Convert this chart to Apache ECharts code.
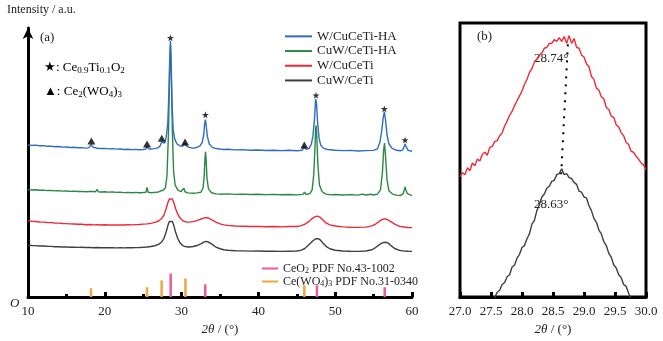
<!DOCTYPE html>
<html>
<head>
<meta charset="utf-8">
<script src="https://cdn.jsdelivr.net/npm/echarts@6/dist/echarts.min.js"></script>
<style>
  html, body { margin: 0; padding: 0; background: #fff; }
  #chart { width: 663px; height: 341px; }
</style>
</head>
<body>
<div id="chart"></div>
<script>
// panel (a) patterns, [2theta, intensity] (offset stacked, a.u.)
const blueA = [[10,156],[10.5,155.6],[11,155.8],[11.5,155.2],[12,155.3],[12.5,154.6],[13,154.8],[13.5,154.2],[14,154.4],[14.5,153.8],[15,153.9],[15.5,153.4],[16,153.6],[16.5,153.1],[17,153.3],[17.5,152.8],[17.9,153.0],[18.1,154.0],[18.25,156.5],[18.4,154.0],[18.6,152.8],[19,152.6],[19.5,152.3],[20,152.5],[20.5,152.0],[21,152.2],[21.5,151.7],[22,151.9],[22.5,151.4],[23,151.6],[23.5,151.2],[24,151.5],[24.5,151.1],[25,151.4],[25.3,151.6],[25.5,154.5],[25.7,152.0],[26,151.8],[26.5,152.2],[26.9,153.0],[27.2,155],[27.4,159],[27.55,157],[27.8,158],[28.0,164],[28.2,178],[28.35,210],[28.45,245],[28.55,263],[28.65,240],[28.75,200],[28.9,172],[29.1,162],[29.4,157],[29.8,155],[30.1,154.5],[30.3,156],[30.45,158],[30.6,155],[31,153.5],[31.5,152.8],[32,153.4],[32.4,155],[32.7,159],[32.9,168],[33.0,178],[33.1,182],[33.2,176],[33.35,165],[33.6,157],[34,153.5],[34.5,152.3],[35,151.8],[35.5,151.4],[36,151.6],[37,151.0],[38,151.2],[39,150.6],[40,150.8],[41,150.3],[42,150.6],[43,150.2],[44,150.5],[45,150.1],[45.7,150.6],[45.95,154],[46.2,151.5],[46.6,152.5],[46.9,157],[47.1,165],[47.3,182],[47.45,203],[47.55,200],[47.7,180],[47.9,163],[48.1,156],[48.5,152.5],[49,151.3],[50,150.6],[51,150.2],[52,150.4],[53,149.8],[54,150.2],[55,150.4],[55.5,152],[55.8,158],[56.05,170],[56.25,184],[56.4,190],[56.55,182],[56.75,166],[57,157],[57.4,152.5],[58,150.5],[58.5,150.0],[58.8,151],[58.95,154],[59.1,157],[59.25,154],[59.5,150.5],[60,149.5]]
const greenA = [[10,110.2],[10.5,109.8],[11,110.0],[11.5,109.5],[12,109.7],[12.5,109.2],[13,109.4],[13.5,108.9],[14,109.1],[14.5,108.6],[15,108.8],[15.5,108.4],[16,108.6],[16.5,108.2],[17,108.4],[17.5,108.0],[18,108.3],[18.2,109.5],[18.35,108.2],[18.8,108.0],[19.0,110.5],[19.15,108.0],[19.5,107.8],[20,108.0],[20.5,107.6],[21,107.8],[21.5,107.3],[22,107.6],[22.5,107.1],[23,107.4],[23.5,107.0],[24,107.3],[24.5,106.9],[25,107.2],[25.35,107.5],[25.5,112.5],[25.65,107.5],[26,107.0],[26.5,107.4],[27,107.8],[27.3,109],[27.45,111],[27.6,109.5],[27.9,112],[28.1,125],[28.3,170],[28.45,235],[28.55,258],[28.65,230],[28.8,170],[28.95,130],[29.15,115],[29.5,110],[29.9,108],[30.15,108.5],[30.3,111.5],[30.45,108],[30.8,106.8],[31.5,106.5],[32,106.8],[32.5,107.5],[32.8,112],[32.95,125],[33.05,143],[33.12,149],[33.2,140],[33.3,122],[33.5,111],[33.9,107],[34.5,105.8],[35,105.5],[36,105.8],[37,105.3],[38,105.6],[39,105.1],[40,105.4],[41,105.0],[42,105.3],[43,104.9],[44,105.2],[45,104.8],[45.8,105.3],[46.0,107.5],[46.2,105.2],[46.7,106],[47.0,110],[47.2,125],[47.35,150],[47.45,172],[47.52,176],[47.6,165],[47.75,135],[47.95,115],[48.3,108],[48.8,105.5],[49.5,104.8],[50,105.2],[51,104.6],[52,105.0],[53,104.5],[53.5,105.5],[54,104.6],[54.7,105.4],[55,104.6],[55.5,105.5],[55.9,110],[56.15,128],[56.3,150],[56.42,158],[56.55,145],[56.75,120],[57,109],[57.5,105.5],[58,104.5],[58.5,104.2],[58.85,106],[59.0,110],[59.1,113],[59.2,110],[59.4,106],[60,104]]
const redA = [[10,78.2],[10.5,77.6],[11,77.5],[11.5,77.0],[12,76.8],[12.5,76.5],[13,76.3],[13.5,75.9],[14,75.8],[14.5,75.4],[15,75.3],[15.5,75.0],[16,74.9],[16.5,74.6],[17,74.6],[17.5,74.2],[18,74.4],[18.5,74.0],[19,74.2],[19.5,73.9],[20,74.1],[20.5,73.8],[21,74.0],[21.5,73.8],[22,74.0],[22.5,73.9],[23,74.2],[23.5,74.0],[24,74.3],[24.5,74.4],[25,74.8],[25.5,75.0],[26,75.6],[26.5,76.5],[27,78],[27.4,80.5],[27.7,84],[28.0,91],[28.2,96.5],[28.4,100.5],[28.6,102],[28.8,100.5],[29.0,96.5],[29.2,91],[29.5,85],[29.8,81],[30.2,78],[30.6,77],[31,76.8],[31.5,77.3],[32,78.3],[32.5,80],[32.9,81],[33.2,81.5],[33.5,81],[33.9,79.5],[34.4,77],[35,75],[35.5,74],[36,73.5],[37,72.8],[38,72.6],[39,72.3],[40,72.5],[41,72.1],[42,72.3],[43,72.0],[44,72.3],[45,72.4],[45.5,73],[46,74.5],[46.5,77],[47,80.5],[47.4,82.5],[47.7,83],[48,82],[48.4,79],[48.8,76],[49.3,74],[50,72.8],[51,72.0],[52,71.5],[53,71.4],[54,71.7],[54.8,73],[55.3,75],[55.8,78],[56.2,79.8],[56.5,80.2],[56.8,79.5],[57.3,77],[57.8,74.5],[58.4,72.5],[59,71.8],[59.5,71.3],[60,71.2]]
const blackA = [[10,53.2],[10.5,52.8],[11,52.7],[11.5,52.4],[12,52.3],[12.5,52.0],[13,51.9],[13.5,51.6],[14,51.6],[14.5,51.3],[15,51.4],[15.5,51.1],[16,51.2],[16.5,50.9],[17,51.0],[17.5,50.8],[18,50.9],[18.5,50.6],[19,50.8],[19.5,50.5],[20,50.7],[20.5,50.5],[21,50.6],[21.5,50.4],[22,50.6],[22.5,50.4],[23,50.6],[23.5,50.5],[24,50.7],[24.5,50.8],[25,51.0],[25.5,51.3],[26,51.8],[26.5,52.6],[27,54],[27.4,56.5],[27.7,60],[28.0,67],[28.2,73],[28.4,77.5],[28.6,79],[28.8,77.5],[29.0,73],[29.2,67],[29.5,60],[29.8,55.5],[30.2,52.5],[30.6,51.5],[31,51.3],[31.5,51.8],[32,52.8],[32.5,54.5],[32.9,56.3],[33.2,57],[33.5,56.4],[33.9,54.5],[34.4,51.5],[35,49.5],[35.5,48.5],[36,48.0],[37,47.5],[38,47.3],[39,47.1],[40,47.2],[41,46.9],[42,47.0],[43,46.8],[44,47.0],[45,47.2],[45.5,47.8],[46,49.5],[46.5,53],[47,57],[47.4,59.5],[47.7,60],[48,59],[48.4,55.5],[48.8,52],[49.3,49.5],[50,48],[51,47.2],[52,46.9],[53,46.8],[54,47.2],[54.8,48.5],[55.3,51],[55.8,54],[56.2,55.8],[56.6,56.2],[56.9,55.3],[57.3,52.5],[57.8,49.5],[58.4,47.8],[59,47.1],[59.5,46.9],[60,46.8]]

// standard cards (stick heights)
const ceo2Pdf = [[28.58,24],[33.08,13],[47.62,12],[56.45,10]]
const cewo4Pdf = [[18.2,9],[25.5,10],[27.4,17],[30.5,19],[45.98,12]]

// phase markers above the W/CuCeTi-HA pattern
const starMarks = [[28.55,266],[33.1,187],[47.5,207],[56.4,193],[59.1,161]]
const triMarks = [[18.25,160],[25.5,157],[27.42,163],[30.45,159],[45.98,156]]

// panel (b) zoomed (111) peak
const redB = [[27.0,124],[27.04,128],[27.08,126],[27.12,133],[27.16,130],[27.2,138],[27.24,135],[27.28,142],[27.32,140],[27.36,147],[27.4,149],[27.44,146],[27.48,154],[27.52,155],[27.56,160],[27.6,161],[27.64,166],[27.68,169],[27.72,176],[27.76,181],[27.8,187],[27.84,191],[27.88,197],[27.92,202],[27.96,207],[28.0,212],[28.04,219],[28.08,224],[28.12,231],[28.16,235],[28.2,242],[28.24,245],[28.28,249],[28.32,251],[28.36,256],[28.4,257],[28.44,261],[28.48,261],[28.52,265],[28.56,263],[28.6,267],[28.64,263],[28.68,268],[28.72,261],[28.76,269],[28.8,261],[28.84,266],[28.88,257],[28.92,256],[28.96,249],[29.0,247],[29.04,240],[29.08,237],[29.12,227],[29.16,224],[29.2,215],[29.24,213],[29.28,206],[29.32,204],[29.36,195],[29.4,193],[29.44,186],[29.48,185],[29.52,177],[29.56,175],[29.6,169],[29.64,166],[29.68,159],[29.72,157],[29.76,150],[29.8,149],[29.84,145],[29.88,142],[29.92,138],[29.96,136],[30.0,131]]
const blackB = [[27.55,-2],[27.6,5],[27.64,7],[27.68,13],[27.72,15],[27.76,21],[27.8,23],[27.84,31],[27.88,33],[27.92,40],[27.96,44],[28.0,51],[28.04,53],[28.08,60],[28.12,65],[28.16,75],[28.2,79],[28.24,89],[28.28,95],[28.32,103],[28.36,106],[28.4,112],[28.44,114],[28.48,119],[28.52,120],[28.56,126],[28.6,127],[28.64,132],[28.68,126],[28.72,127],[28.76,123],[28.8,122],[28.84,118],[28.88,116],[28.92,109],[28.96,108],[29.0,103],[29.04,102],[29.08,94],[29.12,89],[29.16,81],[29.2,77],[29.24,69],[29.28,65],[29.32,57],[29.36,53],[29.4,45],[29.44,41],[29.48,33],[29.52,30],[29.56,23],[29.6,20],[29.64,13],[29.68,11],[29.72,4],[29.76,-2]]
const peakLine = [[28.74,260],[28.63,124]]

const serif = 'Liberation Serif, Times New Roman, serif'
const txt = '#222'
const star = 'path://M50,0 L61,35 L98,35 L68,57 L79,91 L50,70 L21,91 L32,57 L2,35 L39,35 Z'
const rich = {
  n: { fontFamily: serif, fontSize: 13, color: txt },
  s: { fontFamily: serif, fontSize: 9, color: txt, padding: [6, 0, 0, 0] },
  i: { fontFamily: serif, fontSize: 13, color: txt, fontStyle: 'italic' }
}

function curve (name, data, color, xi) {
  return {
    name: name,
    type: 'line',
    xAxisIndex: xi,
    yAxisIndex: xi,
    data: data,
    showSymbol: false,
    symbol: 'none',
    smooth: false,
    lineStyle: { color: color, width: 1.4 },
    itemStyle: { color: color },
    z: 3
  }
}

const chart = echarts.init(document.getElementById('chart'))
const option = {
  animation: false,
  backgroundColor: '#fff',
  textStyle: { fontFamily: serif },
  grid: [
    { left: 28, top: 28, width: 384, height: 276 },
    { left: 460, top: 23, width: 186, height: 282, show: true, borderColor: '#000', borderWidth: 3, backgroundColor: 'transparent' }
  ],
  xAxis: [
    {
      gridIndex: 0, type: 'value', min: 10, max: 60, interval: 10,
      axisLine: { lineStyle: { color: '#000', width: 3 } },
      axisTick: { inside: true, length: 5, lineStyle: { width: 3, color: '#000' } },
      minorTick: { show: true, splitNumber: 2, length: 3, lineStyle: { width: 3, color: '#000' } },
      splitLine: { show: false },
      axisLabel: { fontFamily: serif, fontSize: 13, color: txt, margin: 8 },
      name: '{i|2θ}{n| / (°)}', nameLocation: 'middle', nameGap: 26,
      nameTextStyle: { rich: rich }
    },
    {
      gridIndex: 1, type: 'value', min: 27, max: 30, interval: 0.5,
      axisLine: { lineStyle: { color: '#000', width: 3 } },
      axisTick: { inside: true, length: 5, lineStyle: { width: 3, color: '#000' } },
      splitLine: { show: false },
      axisLabel: { fontFamily: serif, fontSize: 13, color: txt, margin: 8, formatter: (v) => v.toFixed(1) },
      name: '{i|2θ}{n| / (°)}', nameLocation: 'middle', nameGap: 25,
      nameTextStyle: { rich: rich }
    }
  ],
  yAxis: [
    {
      gridIndex: 0, type: 'value', min: 0, max: 276,
      axisLine: { show: true, symbol: ['none', 'arrow'], symbolSize: [8, 11], lineStyle: { color: '#000', width: 3 } },
      axisTick: { show: false }, axisLabel: { show: false }, splitLine: { show: false }
    },
    {
      gridIndex: 1, type: 'value', min: 0, max: 282,
      axisLine: { show: false }, axisTick: { show: false }, axisLabel: { show: false }, splitLine: { show: false }
    }
  ],
  legend: [
    {
      data: ['W/CuCeTi-HA', 'CuW/CeTi-HA', 'W/CuCeTi', 'CuW/CeTi'],
      orient: 'vertical', left: 285, top: 29, itemGap: 0, padding: 0,
      icon: 'rect', itemWidth: 27, itemHeight: 2,
      textStyle: { fontFamily: serif, fontSize: 13, color: txt, lineHeight: 14.7 }
    },
    {
      data: ['ceo2', 'cewo4'],
      orient: 'vertical', left: 262, top: 262, itemGap: 0, padding: 0,
      icon: 'rect', itemWidth: 16, itemHeight: 2,
      formatter: (n) => n === 'ceo2' ? '{n|CeO}{s|2}{n| PDF No.43-1002}' : '{n|Ce(WO}{s|4}{n|)}{s|3}{n| PDF No.31-0340}',
      textStyle: { fontFamily: serif, fontSize: 12, color: txt, lineHeight: 13, rich: {
        n: { fontFamily: serif, fontSize: 12, color: txt },
        s: { fontFamily: serif, fontSize: 8, color: txt, padding: [5, 0, 0, 0] }
      } }
    }
  ],
  graphic: [
    { type: 'text', left: 7, top: 4, style: { text: 'Intensity / a.u.', font: '12px ' + serif, fill: txt } },
    { type: 'text', left: 40, top: 31, style: { text: '(a)', font: '13px ' + serif, fill: txt } },
    { type: 'text', left: 44, top: 61, style: { text: '{n|★: Ce}{s|0.9}{n|Ti}{s|0.1}{n|O}{s|2}', rich: rich } },
    { type: 'text', left: 44, top: 85, style: { text: '{n|▲: Ce}{s|2}{n|(WO}{s|4}{n|)}{s|3}', rich: rich } },
    { type: 'text', left: 10, top: 297, style: { text: 'O', font: 'italic 13px ' + serif, fill: txt } },
    { type: 'text', left: 477, top: 30, style: { text: '(b)', font: '13px ' + serif, fill: txt } },
    { type: 'text', left: 534, top: 52, style: { text: '28.74°', font: '13px ' + serif, fill: txt } },
    { type: 'text', left: 534, top: 198, style: { text: '28.63°', font: '13px ' + serif, fill: txt } }
  ],
  series: [
    curve('CuW/CeTi', blackA, '#3f3f3f', 0),
    curve('W/CuCeTi', redA, '#ee2a36', 0),
    curve('CuW/CeTi-HA', greenA, '#2b8746', 0),
    curve('W/CuCeTi-HA', blueA, '#2f6cc2', 0),
    {
      name: 'ceo2', type: 'bar', xAxisIndex: 0, yAxisIndex: 0, data: ceo2Pdf,
      barWidth: 2.5, barGap: '-100%', itemStyle: { color: '#ec5a9c' }
    },
    {
      name: 'cewo4', type: 'bar', xAxisIndex: 0, yAxisIndex: 0, data: cewo4Pdf,
      barWidth: 2.5, barGap: '-100%', itemStyle: { color: '#f0a640' }
    },
    {
      name: 'star', type: 'scatter', xAxisIndex: 0, yAxisIndex: 0, data: starMarks,
      symbol: star, symbolSize: 7, itemStyle: { color: '#000' }, z: 5
    },
    {
      name: 'tri', type: 'scatter', xAxisIndex: 0, yAxisIndex: 0, data: triMarks,
      symbol: 'triangle', symbolSize: [8, 7], itemStyle: { color: '#000' }, z: 5
    },
    curve('b-red', redB, '#ee2a36', 1),
    curve('b-black', blackB, '#3f3f3f', 1),
    {
      name: 'peak', type: 'line', xAxisIndex: 1, yAxisIndex: 1, data: peakLine,
      symbol: 'none', lineStyle: { color: '#000', width: 2, type: [2, 6] }, z: 4
    }
  ]
}
chart.setOption(option)
</script>
</body>
</html>
